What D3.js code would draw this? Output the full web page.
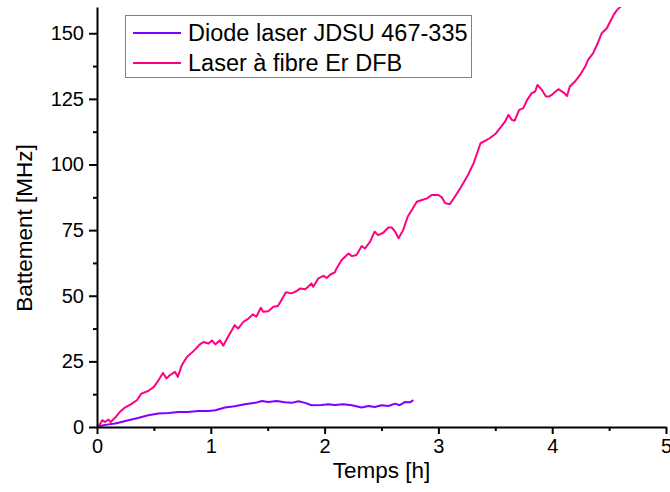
<!DOCTYPE html>
<html lang="fr">
<head>
  <meta charset="UTF-8">
  <title>Battement</title>
  <script src="https://d3js.org/d3.v7.min.js"></script>
  <style>
    body { margin: 0; background: white; }
    svg { display: block; font-family: "Liberation Sans", Arial, sans-serif; }
    .line { fill: none; stroke-width: 2px; stroke-linejoin: round; }
  </style>
</head>
<body>
  <div id="chart"></div>

  <script>
    // Temps [h] et battement [MHz]
    const timeDiode = [0.01, 0.10, 0.16, 0.215, 0.275, 0.36, 0.45, 0.54, 0.63, 0.715, 0.80, 0.89, 0.98, 1.04, 1.125, 1.21, 1.30, 1.39, 1.45, 1.505, 1.58, 1.65, 1.71, 1.77, 1.83, 1.885, 1.975, 2.03, 2.09, 2.165, 2.24, 2.325, 2.385, 2.44, 2.50, 2.56, 2.62, 2.66, 2.705, 2.75, 2.78];
    const batDiode = [0.3, 1.0, 1.3, 1.9, 2.6, 3.4, 4.5, 5.1, 5.3, 5.7, 5.7, 6.1, 6.1, 6.4, 7.4, 7.9, 8.7, 9.2, 9.9, 9.5, 9.9, 9.4, 9.2, 9.8, 9.2, 8.3, 8.4, 8.7, 8.4, 8.7, 8.3, 7.4, 8.0, 7.6, 8.3, 8.0, 8.9, 8.3, 9.5, 9.4, 10.2];

    const timeFibre = [0.01, 0.047, 0.07, 0.10, 0.12, 0.16, 0.20, 0.245, 0.30, 0.35, 0.39, 0.45, 0.50, 0.54, 0.58, 0.61, 0.64, 0.685, 0.71, 0.745, 0.79, 0.85, 0.905, 0.935, 0.98, 1.01, 1.04, 1.08, 1.11, 1.15, 1.21, 1.24, 1.285, 1.33, 1.37, 1.40, 1.44, 1.46, 1.505, 1.55, 1.59, 1.62, 1.66, 1.71, 1.755, 1.785, 1.83, 1.855, 1.885, 1.90, 1.945, 1.99, 2.02, 2.05, 2.09, 2.105, 2.15, 2.21, 2.24, 2.28, 2.325, 2.355, 2.40, 2.44, 2.47, 2.515, 2.56, 2.59, 2.62, 2.65, 2.69, 2.73, 2.765, 2.81, 2.855, 2.90, 2.94, 3.0, 3.03, 3.06, 3.10, 3.145, 3.20, 3.26, 3.31, 3.34, 3.37, 3.41, 3.45, 3.50, 3.54, 3.585, 3.615, 3.645, 3.67, 3.71, 3.745, 3.78, 3.82, 3.85, 3.87, 3.91, 3.945, 3.97, 3.995, 4.03, 4.055, 4.10, 4.13, 4.155, 4.20, 4.245, 4.29, 4.315, 4.36, 4.40, 4.435, 4.48, 4.51, 4.54, 4.57, 4.61, 4.65];
    const batFibre = [0, 2.6, 1.9, 2.8, 1.9, 3.6, 5.7, 7.4, 8.7, 10.2, 12.7, 13.7, 15.3, 17.8, 20.6, 18.5, 19.7, 21.0, 19.1, 23.5, 26.7, 29.0, 31.5, 32.4, 31.8, 33.0, 31.5, 33.0, 31.0, 34.3, 38.8, 37.5, 40.0, 41.3, 42.9, 42.0, 45.4, 43.9, 44.1, 45.8, 46.1, 48.3, 51.3, 50.9, 51.8, 52.8, 52.5, 53.4, 54.7, 53.4, 56.6, 57.6, 56.8, 58.1, 58.9, 60.4, 63.6, 66.1, 65.1, 65.5, 68.9, 68.0, 70.6, 74.4, 73.1, 74.0, 76.0, 76.0, 74.4, 71.9, 75.0, 80.1, 82.6, 85.8, 86.5, 87.1, 88.4, 88.4, 87.5, 85.2, 84.9, 87.7, 91.5, 96.0, 100.5, 104.3, 108.1, 109.0, 110.0, 111.6, 113.8, 116.3, 118.9, 117.0, 116.7, 120.8, 121.4, 124.6, 127.2, 127.8, 130.3, 128.4, 125.9, 125.9, 126.5, 127.8, 128.7, 127.4, 126.1, 129.7, 131.6, 134.1, 137.3, 139.9, 142.4, 146.2, 150.0, 151.9, 154.5, 157.0, 158.9, 160.5, 161.0];

    const seriesNames = ["Diode laser JDSU 467-335", "Laser à fibre Er DFB"];
    const seriesColors = ["#8000ff", "#ff0080"];
    const xTicks = [0, 1, 2, 3, 4, 5];
    const yTicks = [0, 25, 50, 75, 100, 125, 150];

    const margin = { top: 7, right: 4, bottom: 65, left: 97 };
    const W = 670, H = 492;
    const width = W - margin.left - margin.right;
    const height = H - margin.top - margin.bottom;

    const svg = d3.select("#chart").append("svg")
      .attr("width", W)
      .attr("height", H);

    const g = svg.append("g")
      .attr("transform", `translate(${margin.left},${margin.top})`);

    const x = d3.scaleLinear().domain([0, 5]).range([0, width]);
    const y = d3.scaleLinear().domain([0, 160]).range([height, 0]);

    g.append("clipPath").attr("id", "clip")
      .append("rect").attr("width", width).attr("height", height);

    const series = [
      timeDiode.map((t, i) => ({ t, v: batDiode[i] })),
      timeFibre.map((t, i) => ({ t, v: batFibre[i] }))
    ];

    const line = d3.line().x(d => x(d.t)).y(d => y(d.v));

    series.forEach((s, i) => {
      g.append("path")
        .datum(s)
        .attr("class", "line")
        .attr("clip-path", "url(#clip)")
        .attr("stroke", seriesColors[i])
        .attr("d", line);
    });

    // petites graduations
    const xMinor = g.append("g")
      .attr("transform", `translate(0,${height})`)
      .call(d3.axisBottom(x).tickValues(d3.range(0.5, 5, 1)).tickSize(4).tickFormat(""));
    const yMinor = g.append("g")
      .call(d3.axisLeft(y).tickValues(d3.range(12.5, 160, 25)).tickSize(4).tickFormat(""));
    [xMinor, yMinor].forEach(a => {
      a.select(".domain").remove();
      a.selectAll("line").attr("stroke-width", 2);
    });

    const xAxis = g.append("g")
      .attr("transform", `translate(0,${height})`)
      .call(d3.axisBottom(x).tickValues(xTicks).tickFormat(d3.format("d"))
        .tickSize(7).tickPadding(5).tickSizeOuter(0));
    const yAxis = g.append("g")
      .call(d3.axisLeft(y).tickValues(yTicks).tickFormat(d3.format("d"))
        .tickSize(8).tickPadding(5).tickSizeOuter(0));

    [xAxis, yAxis].forEach(a => {
      a.select(".domain").attr("stroke-width", 2);
      a.selectAll(".tick line").attr("stroke-width", 2);
      a.selectAll("text")
        .attr("fill", "#000")
        .style("font-family", "'Liberation Sans', Arial, sans-serif")
        .style("font-size", "20px");
    });

    svg.append("text")
      .attr("x", margin.left + width / 2)
      .attr("y", 478)
      .attr("text-anchor", "middle")
      .style("font-size", "22.5px")
      .text("Temps [h]");

    svg.append("text")
      .attr("transform", "translate(32,228) rotate(-90)")
      .attr("text-anchor", "middle")
      .style("font-size", "22.5px")
      .text("Battement [MHz]");

    // légende
    const legend = svg.append("g");
    legend.append("rect")
      .attr("x", 125.5).attr("y", 15.5)
      .attr("width", 346).attr("height", 62)
      .attr("fill", "white")
      .attr("stroke", "#808080")
      .attr("stroke-width", 1);

    seriesNames.forEach((name, i) => {
      const yy = 33 + i * 30;
      legend.append("line")
        .attr("x1", 133).attr("x2", 181)
        .attr("y1", yy).attr("y2", yy)
        .attr("stroke", seriesColors[i])
        .attr("stroke-width", 2);
      legend.append("text")
        .attr("x", 188)
        .attr("y", yy + 8)
        .style("font-size", "23.5px")
        .text(name);
    });
  </script>
</body>
</html>
